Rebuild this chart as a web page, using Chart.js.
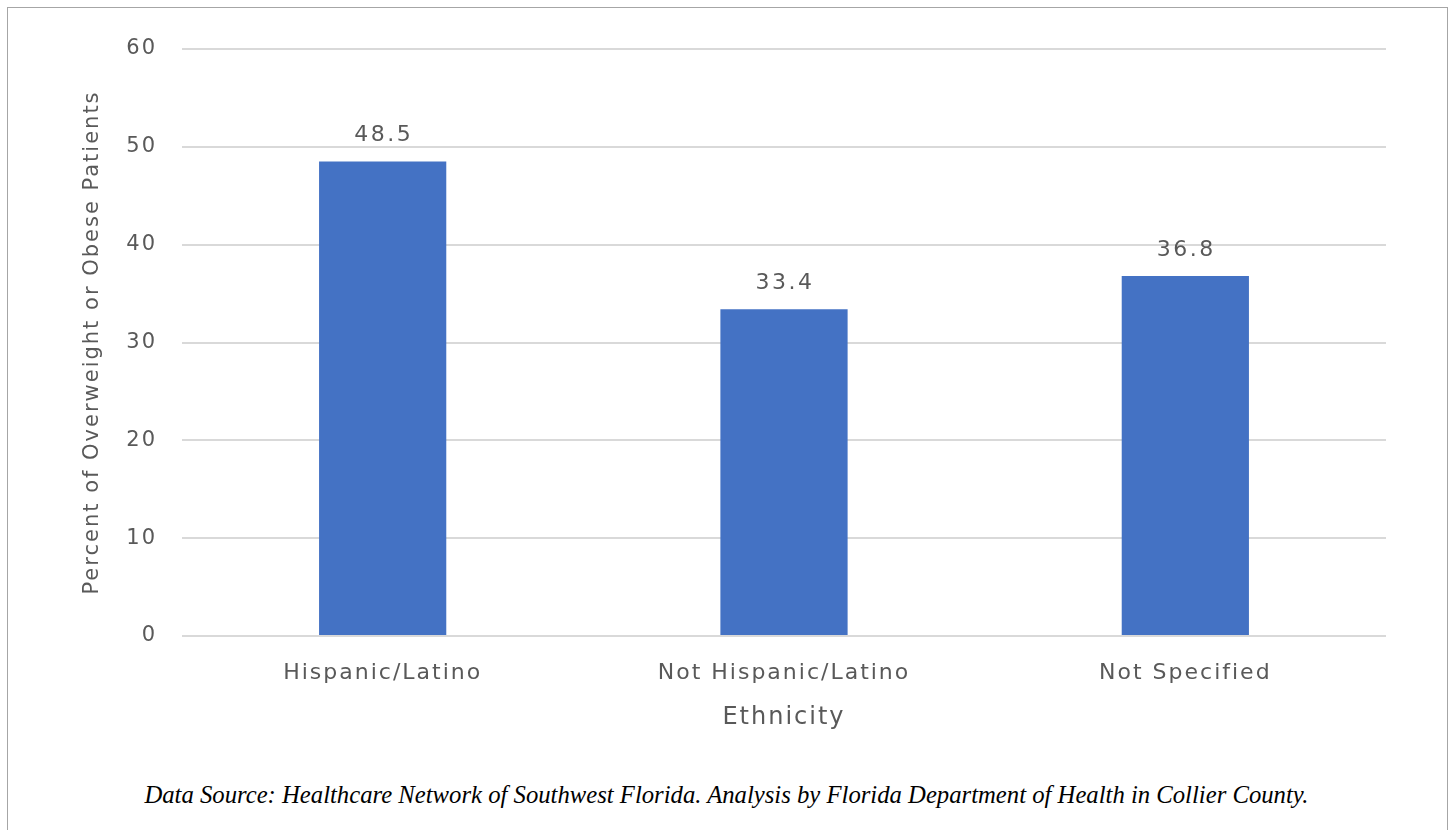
<!DOCTYPE html>
<html>
<head>
<meta charset="utf-8">
<script src="https://cdn.jsdelivr.net/npm/chart.js@4"></script>
<style>
  html, body { margin: 0; padding: 0; background: #fff; width: 1453px; height: 830px; overflow: hidden; }
  #frame { position: absolute; left: 7px; top: 7px; width: 1439px; height: 840px; border: 1px solid #a6a6a6; }
  #wrap { position: absolute; left: 0; top: 0; width: 1453px; height: 760px; }
  #source { position: absolute; left: 0; top: 781px; width: 1453px; text-align: center;
    font-family: "Liberation Serif", serif; font-style: italic; font-size: 24.7px; color: #000; }
</style>
</head>
<body>
<div id="frame"></div>
<div id="wrap"><canvas id="canvas"></canvas></div>
<div id="source">Data Source: Healthcare Network of Southwest Florida. Analysis by Florida Department of Health in Collier County.</div>
<script>
var ethnicities = ["Hispanic/Latino", "Not Hispanic/Latino", "Not Specified"];
var percents = [48.5, 33.4, 36.8];
var yTicks = [0, 10, 20, 30, 40, 50, 60];

var textColor = "#595959";
var fontName = "'DejaVu Sans', sans-serif";

/* the reference text is widely spaced */
var spacing = {
    id: 'spacing',
    beforeLayout: function (chart) { chart.ctx.letterSpacing = "2px"; },
    beforeDraw: function (chart) { chart.ctx.letterSpacing = "2px"; }
};

/* value labels above the bars */
var barLabels = {
    id: 'barLabels',
    afterDatasetsDraw: function (chart) {
        var ctx = chart.ctx;
        var meta = chart.getDatasetMeta(0);
        ctx.save();
        ctx.letterSpacing = "2.5px";
        ctx.font = "22px " + fontName;
        ctx.fillStyle = textColor;
        ctx.textAlign = "center";
        ctx.textBaseline = "middle";
        for (var i = 0; i < meta.data.length; i++) {
            var bar = meta.data[i];
            ctx.fillText(percents[i].toFixed(1), bar.x + 1, bar.y - 26);
        }
        ctx.restore();
    }
};

var ctx = document.getElementById("canvas").getContext("2d");

var chart = new Chart(ctx, {
    type: 'bar',
    data: {
        labels: ethnicities,
        datasets: [{
            data: percents,
            backgroundColor: "#4472C4",
            borderWidth: 0,
            categoryPercentage: 1,
            barPercentage: 0.317
        }]
    },
    options: {
        responsive: true,
        maintainAspectRatio: false,
        animation: false,
        layout: { padding: { left: 80, right: 67, top: 49, bottom: 24 } },
        plugins: {
            legend: { display: false },
            tooltip: { enabled: false }
        },
        scales: {
            x: {
                grid: { display: false, drawTicks: false },
                border: { display: false },
                ticks: { color: textColor, font: { family: fontName, size: 22 }, padding: 24, maxRotation: 0 },
                title: { display: true, text: "Ethnicity", color: textColor, font: { family: fontName, size: 24 }, padding: { top: 0, bottom: 4 } },
                afterFit: function (scale) { scale.height = 100; }
            },
            y: {
                min: 0,
                max: 60,
                afterBuildTicks: function (scale) {
                    scale.ticks = yTicks.map(function (v) { return { value: v }; });
                },
                grid: { color: "#d9d9d9", lineWidth: 2, drawTicks: false },
                border: { display: false },
                ticks: { color: textColor, font: { family: fontName, size: 21 }, padding: 25 },
                title: { display: true, text: "Percent of Overweight or Obese Patients", color: textColor, font: { family: fontName, size: 21 }, padding: 0 },
                afterFit: function (scale) { scale.width = 102; }
            }
        }
    },
    plugins: [spacing, barLabels]
});
</script>
</body>
</html>
